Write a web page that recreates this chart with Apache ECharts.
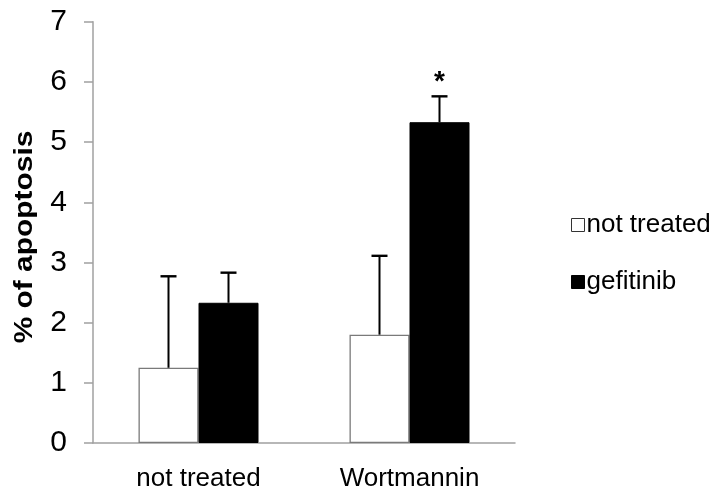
<!DOCTYPE html>
<html>
<head>
<meta charset="utf-8">
<script src="https://cdn.jsdelivr.net/npm/echarts@6/dist/echarts.min.js"></script>
<style>
html,body{margin:0;padding:0;background:#fff;}
#chart{width:714px;height:492px;}
</style>
</head>
<body>
<div id="chart"></div>
<script>
// ---- data ----
const categories = ['not treated', 'Wortmannin'];
const seriesNames = ['not treated', 'gefitinib'];
const notTreated = [1.25, 1.80];
const notTreatedErr = [1.52, 1.31];
const gefitinib = [2.33, 5.33];
const gefitinibErr = [0.50, 0.43];
const notTreatedMarks = ['', ''];
const gefitinibMarks = ['', '*'];
const yTicks = [0, 1, 2, 3, 4, 5, 6, 7];

const FONT = "'Liberation Sans', Arial, Helvetica, sans-serif";
const BAR_W = 60;

function errData(values, errs, sign) {
  return values.map((v, i) => [i, v, errs[i], sign]);
}

function makeRenderer(marks) {
  return function (params, api) {
    const ci = api.value(0), v = api.value(1), e = api.value(2), sign = api.value(3);
    const mark = marks[params.dataIndex];
    const base = api.coord([ci, v]);
    const top = api.coord([ci, v + e]);
    const x = base[0] + sign * BAR_W / 2;
    const children = [
      {type: 'line', shape: {x1: x, y1: base[1], x2: x, y2: top[1]}, style: {stroke: '#000', lineWidth: 2}},
      {type: 'line', shape: {x1: x - 8, y1: top[1], x2: x + 8, y2: top[1]}, style: {stroke: '#000', lineWidth: 2.4}}
    ];
    if (mark) {
      children.push({type: 'text', x: x, y: top[1] - 14, style: {text: mark, fill: '#000', font: 'bold 28px ' + FONT, align: 'center', verticalAlign: 'middle'}});
    }
    return {type: 'group', children: children};
  };
}

const chart = echarts.init(document.getElementById('chart'));
chart.setOption({
  animation: false,
  backgroundColor: '#fff',
  grid: {left: 93, right: 199, top: 21.7, bottom: 48.7, containLabel: false},
  legend: {
    orient: 'vertical',
    left: 566,
    top: 205,
    itemWidth: 13,
    itemHeight: 13,
    itemGap: 27,
    icon: 'rect',
    textStyle: {fontFamily: FONT, fontSize: 26, color: '#000', lineHeight: 30, padding: [0, 0, 0, -3]},
    data: [
      {name: seriesNames[0], itemStyle: {color: '#fff', borderColor: '#333', borderWidth: 1}},
      {name: seriesNames[1], itemStyle: {color: '#000', borderColor: '#000', borderWidth: 1}}
    ]
  },
  xAxis: {
    type: 'category',
    data: categories,
    axisLine: {show: true, lineStyle: {color: '#a0a0a0', width: 1.5}},
    axisTick: {show: false},
    axisLabel: {fontFamily: FONT, fontSize: 26, color: '#000', margin: 23},
    splitLine: {show: false}
  },
  yAxis: {
    type: 'value',
    min: yTicks[0],
    max: yTicks[yTicks.length - 1],
    interval: 1,
    axisLine: {show: true, lineStyle: {color: '#a0a0a0', width: 1.5}},
    axisTick: {show: true, length: 9, lineStyle: {color: '#a0a0a0', width: 1.5}},
    axisLabel: {fontFamily: FONT, fontSize: 30, color: '#000', margin: 26},
    splitLine: {show: false}
  },
  graphic: [{
    type: 'text',
    x: 25,
    y: 237,
    rotation: Math.PI / 2,
    scaleX: 1.15,
    style: {text: '% of apoptosis', font: 'bold 26px ' + FONT, fill: '#000', align: 'center', verticalAlign: 'middle'}
  }],
  series: [
    {
      name: seriesNames[0], type: 'bar', data: notTreated, barWidth: BAR_W, barGap: '0%',
      itemStyle: {color: '#fff', borderColor: '#7a7a7a', borderWidth: 1.3}
    },
    {
      name: seriesNames[1], type: 'bar', data: gefitinib, barWidth: BAR_W, barGap: '0%',
      itemStyle: {color: '#000', borderColor: '#000', borderWidth: 1}
    },
    {
      type: 'custom', renderItem: makeRenderer(notTreatedMarks), data: errData(notTreated, notTreatedErr, -1),
      encode: {x: 0, y: 1}, z: 5, silent: true
    },
    {
      type: 'custom', renderItem: makeRenderer(gefitinibMarks), data: errData(gefitinib, gefitinibErr, 1),
      encode: {x: 0, y: 1}, z: 5, silent: true
    }
  ]
});
</script>
</body>
</html>
